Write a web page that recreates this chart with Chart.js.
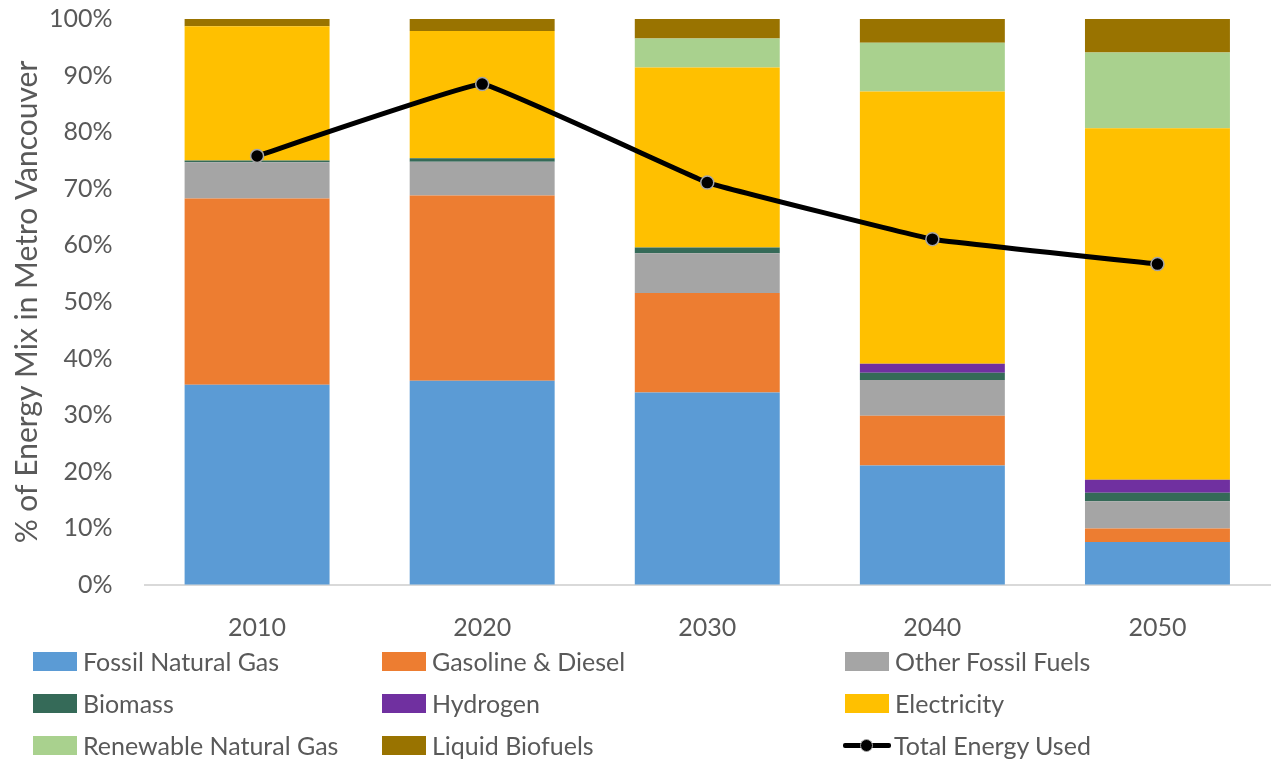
<!DOCTYPE html>
<html>
<head>
<meta charset="utf-8">
<script src="https://cdn.jsdelivr.net/npm/chart.js@4.4.0/dist/chart.umd.min.js"></script>
<style>
  body { margin: 0; background: #fff; }
  #wrap { position: relative; width: 1274px; height: 763px; }
  #legend { position: absolute; left: 0; top: 0; width: 1274px; height: 763px; pointer-events: none;
            font-family: Lato, "Open Sans", sans-serif; font-size: 25px; color: #595959; }
  .item { position: absolute; height: 30px; display: flex; align-items: center; white-space: nowrap; }
  .sw { width: 44px; height: 19px; margin-right: 6px; }
  .ln { position: relative; width: 48px; height: 19px; margin-right: 3px; }
  .ln:before { content: ""; position: absolute; left: 0; right: 0; top: 7px; height: 5px; background: #000; border-radius: 2px; }
  .ln:after { content: ""; position: absolute; left: 17px; top: 3px; width: 11px; height: 11px; border-radius: 50%; background: #000; border: 1px solid #a6a6a6; }
</style>
</head>
<body>
<div id="wrap">
  <canvas id="chart" width="1274" height="763"></canvas>
  <div id="legend"></div>
</div>
<script>
var years = ["2010", "2020", "2030", "2040", "2050"];

var fossilNaturalGas = [35.4, 36.1, 34.0, 21.1, 7.6];
var gasolineDiesel = [32.9, 32.7, 17.6, 8.8, 2.4];
var otherFossilFuels = [6.4, 6.0, 7.0, 6.3, 4.8];
var biomass = [0.3, 0.6, 1.05, 1.3, 1.5];
var hydrogen = [0, 0, 0, 1.6, 2.3];
var electricity = [23.7, 22.5, 31.8, 48.1, 62.1];
var renewableNaturalGas = [0, 0, 5.1, 8.6, 13.4];
var liquidBiofuels = [1.3, 2.1, 3.5, 4.2, 5.9];
var totalEnergyUsed = [75.8, 88.5, 71.1, 61.1, 56.7];

var yTicks = [0, 10, 20, 30, 40, 50, 60, 70, 80, 90, 100];

var textColor = "#595959";
var fontFamily = "Lato, 'Open Sans', sans-serif";

function barSet(label, data, color) {
    return {
        type: "bar",
        label: label,
        data: data,
        backgroundColor: color,
        borderWidth: 0,
        barPercentage: 0.644,
        categoryPercentage: 1,
        stack: "mix",
        order: 2
    };
}

var datasets = [
    barSet("Fossil Natural Gas", fossilNaturalGas, "#5B9BD5"),
    barSet("Gasoline & Diesel", gasolineDiesel, "#ED7D31"),
    barSet("Other Fossil Fuels", otherFossilFuels, "#A5A5A5"),
    barSet("Biomass", biomass, "#356A58"),
    barSet("Hydrogen", hydrogen, "#7030A0"),
    barSet("Electricity", electricity, "#FFC000"),
    barSet("Renewable Natural Gas", renewableNaturalGas, "#A9D18E"),
    barSet("Liquid Biofuels", liquidBiofuels, "#997300"),
    {
        type: "line",
        label: "Total Energy Used",
        data: totalEnergyUsed,
        borderColor: "#000",
        borderWidth: 5,
        backgroundColor: "#000",
        pointRadius: 6.5,
        pointBorderColor: "#a6a6a6",
        pointBorderWidth: 1.5,
        tension: 0.06,
        order: 1
    }
];

// invisible tick marks are used to push the labels away from the plot
new Chart(document.getElementById("chart"), {
    type: "bar",
    data: { labels: years, datasets: datasets },
    options: {
        responsive: false,
        animation: false,
        layout: { autoPadding: false, padding: { left: 9, right: 4, top: -2, bottom: 116 } },
        plugins: { legend: { display: false }, tooltip: { enabled: false } },
        scales: {
            x: {
                stacked: true,
                grid: { display: true, drawOnChartArea: false, drawTicks: true, tickLength: 24, color: "rgba(0,0,0,0)" },
                border: { display: true, color: "#d9d9d9", width: 2 },
                ticks: { color: textColor, font: { family: fontFamily, size: 25 }, padding: 4 }
            },
            y: {
                stacked: true,
                min: 0,
                max: 100,
                afterBuildTicks: function (axis) {
                    axis.ticks = yTicks.map(function (v) { return { value: v }; });
                },
                grid: { display: true, drawOnChartArea: false, drawTicks: true, tickLength: 28, color: "rgba(0,0,0,0)" },
                border: { display: false },
                ticks: {
                    color: textColor,
                    font: { family: fontFamily, size: 25 },
                    padding: 4,
                    callback: function (v) { return v + "%"; }
                },
                title: {
                    display: true,
                    text: "% of Energy Mix in Metro Vancouver",
                    color: textColor,
                    font: { family: fontFamily, size: 30 },
                    padding: { top: 0, bottom: 0 }
                }
            }
        }
    }
});

// legend laid out in a 3-column grid like the original
var legendItems = [
    { label: "Fossil Natural Gas", color: "#5B9BD5" },
    { label: "Gasoline & Diesel", color: "#ED7D31" },
    { label: "Other Fossil Fuels", color: "#A5A5A5" },
    { label: "Biomass", color: "#356A58" },
    { label: "Hydrogen", color: "#7030A0" },
    { label: "Electricity", color: "#FFC000" },
    { label: "Renewable Natural Gas", color: "#A9D18E" },
    { label: "Liquid Biofuels", color: "#997300" },
    { label: "Total Energy Used", line: true }
];
var colX = [33, 382, 845];
var rowY = [661, 703, 745];
var legend = document.getElementById("legend");
for (var i = 0; i < legendItems.length; i++) {
    var it = legendItems[i];
    var div = document.createElement("div");
    div.className = "item";
    div.style.left = (colX[i % 3] - (it.line ? 2 : 0)) + "px";
    div.style.top = (rowY[Math.floor(i / 3)] - 15) + "px";
    var sw = document.createElement("span");
    sw.className = it.line ? "ln" : "sw";
    if (!it.line) sw.style.background = it.color;
    div.appendChild(sw);
    div.appendChild(document.createTextNode(it.label));
    legend.appendChild(div);
}
</script>
</body>
</html>
